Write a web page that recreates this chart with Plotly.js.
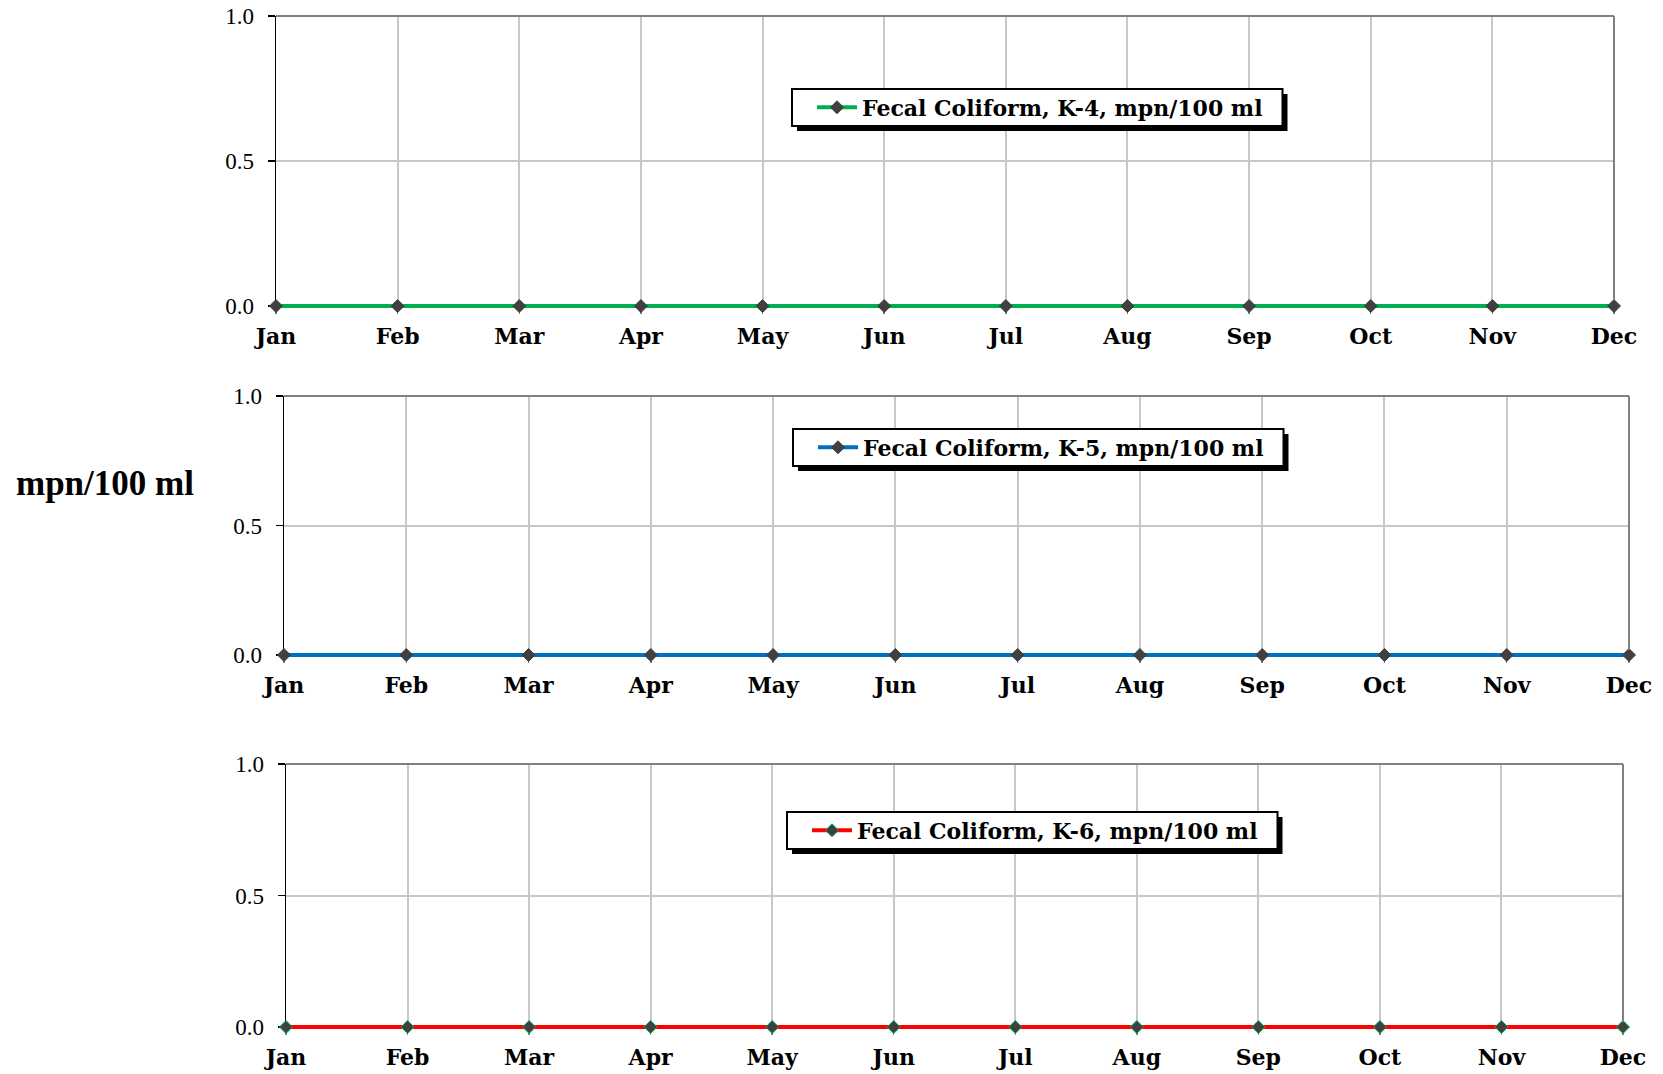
<!DOCTYPE html>
<html>
<head>
<meta charset="utf-8">
<script src="https://cdn.plot.ly/plotly-3.0.1.min.js"></script>
<style>html,body{margin:0;padding:0;background:#fff;}#chart{width:1663px;height:1074px;}</style>
</head>
<body>
<div id="chart"></div>
<script>
// ---- data ----
const months = ["Jan","Feb","Mar","Apr","May","Jun","Jul","Aug","Sep","Oct","Nov","Dec"];
const k4Values = [0,0,0,0,0,0,0,0,0,0,0,0];
const k5Values = [0,0,0,0,0,0,0,0,0,0,0,0];
const k6Values = [0,0,0,0,0,0,0,0,0,0,0,0];
const seriesNames = ["Fecal Coliform, K-4, mpn/100 ml","Fecal Coliform, K-5, mpn/100 ml","Fecal Coliform, K-6, mpn/100 ml"];
const yTickVals = [0, 0.5, 1.0];
const yTitle = "mpn/100 ml";

// ---- layout geometry (pixels) ----
const W = 1663, H = 1074;
const PAD = 4; // extra room below zero so the thick zero-level line is not clipped
const panels = [
  {l:276, r:1614, t:16, b:306, symX:812, boxT:89, boxB:126},
  {l:284, r:1629, t:396, b:655, symX:813, boxT:429, boxB:466},
  {l:286, r:1623, t:764, b:1027, symX:807, boxT:812, boxB:849}
];
const colors = ["#00b050","#0070c0","#ff0000"];
const markerLine = ["#404040","#404040","#00b050"];
const values = [k4Values, k5Values, k6Values];

const monthFont = {family:"DejaVu Serif", size:22, color:"#000", weight:"bold"};
const numFont = {family:"Liberation Serif, Times New Roman, serif", size:23, color:"#000"};
const legFont = {family:"DejaVu Serif", size:22, color:"#000", weight:"bold"};

const traces = [];
const frameShapes = [];
const layout = {
  width:W, height:H,
  margin:{l:0,r:0,t:0,b:0},
  paper_bgcolor:"#fff", plot_bgcolor:"#fff",
  showlegend:true,
  annotations:[{
    text:"<b>"+yTitle+"</b>", xref:"paper", yref:"paper",
    x:14/W, y:1-483/H, xanchor:"left", yanchor:"middle", showarrow:false,
    font:{family:"Liberation Serif, Times New Roman, serif", size:35, color:"#000"}
  }]
};

panels.forEach((p,i)=>{
  const n = i+1;
  const xa = n===1 ? "xaxis" : "xaxis"+n;
  const ya = n===1 ? "yaxis" : "yaxis"+n;
  const xr = n===1 ? "x" : "x"+n;
  const yr = n===1 ? "y" : "y"+n;
  const legKey = n===1 ? "legend" : "legend"+n;
  const yMin = -PAD/(p.b-p.t);
  const dom = {x:[p.l/W, p.r/W], y:[1-(p.b+PAD)/H, 1-p.t/H]};
  layout[xa] = {
    domain:dom.x, anchor:yr, type:"category", categoryorder:"array", categoryarray:months,
    range:[0,11], showgrid:true, gridcolor:"#c8c8c8", gridwidth:2,
    showline:false,
    ticks:"outside", ticklen:3, tickcolor:"#808080", tickwidth:1.5, tickfont:monthFont,
    ticklabelstandoff:4, zeroline:false, fixedrange:true, layer:"below traces"
  };
  layout[ya] = {
    domain:dom.y, anchor:xr, range:[yMin,1], tickvals:yTickVals, tickformat:".1f",
    showgrid:true, gridcolor:"#c8c8c8", gridwidth:2,
    showline:true, linecolor:"#000", linewidth:1.5,
    ticks:"outside", ticklen:7, tickcolor:"#000", tickwidth:1.5, tickfont:numFont,
    ticklabelstandoff:9, zeroline:false, fixedrange:true, layer:"below traces"
  };
  // gray frame on top and right
  frameShapes.push({type:"line", xref:xr+" domain", yref:yr+" domain", layer:"above",
    x0:0, x1:1, y0:1, y1:1, line:{color:"#808080", width:2}});
  frameShapes.push({type:"line", xref:xr+" domain", yref:yr, layer:"above",
    x0:1, x1:1, y0:0.02, y1:1, line:{color:"#808080", width:2}});
  layout[legKey] = {
    x:p.symX/W, y:1-((p.boxT+p.boxB)/2)/H, xanchor:"left", yanchor:"middle",
    bgcolor:"rgba(0,0,0,0)", borderwidth:0,
    font:legFont, itemwidth:40
  };
  traces.push({
    type:"scatter", mode:"lines+markers", x:months, y:values[i],
    xaxis:xr, yaxis:yr, name:seriesNames[i], legend:legKey,
    line:{color:colors[i], width:4},
    marker:{symbol:"diamond", size:10, color:"#404040", line:{color:markerLine[i], width:1}},
    cliponaxis:false
  });
});
layout.shapes = frameShapes.slice();

Plotly.newPlot("chart", traces, layout, {staticPlot:true, displayModeBar:false}).then(gd=>{
  const root = gd.getBoundingClientRect();
  const shapes = frameShapes.slice();
  ["legend","legend2","legend3"].forEach((id,i)=>{
    const p = panels[i];
    const tr = gd.querySelector("g."+id+" g.traces");
    if(!tr) return;
    const b = tr.getBoundingClientRect();
    const sym = b.left - root.left;
    const txtR = b.right - root.left;
    const x0 = sym - 20, x1 = txtR + 20;
    const y0 = p.boxT, y1 = p.boxB;
    const off = 5;
    shapes.push({type:"rect", xref:"paper", yref:"paper", layer:"above",
      x0:(x0+off)/W, x1:(x1+off)/W, y0:1-(y1+off)/H, y1:1-(y0+off)/H,
      fillcolor:"#000", line:{width:0}});
    shapes.push({type:"rect", xref:"paper", yref:"paper", layer:"above",
      x0:x0/W, x1:x1/W, y0:1-y1/H, y1:1-y0/H,
      fillcolor:"#fff", line:{color:"#000", width:2}});
  });
  return Plotly.relayout(gd, {shapes:shapes});
});
</script>
</body>
</html>
